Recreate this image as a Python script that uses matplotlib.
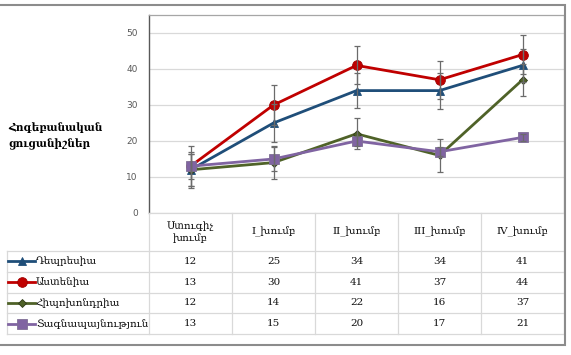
import matplotlib
matplotlib.use("Agg")
import matplotlib.pyplot as plt
from matplotlib.patches import Rectangle
import numpy as np

plt.rcParams['font.family'] = ['DejaVu Serif', 'DejaVu Sans']

categories = ["Ստուգիչ\nխումբ", "I_խումբ", "II_խումբ", "III_խումբ", "IV_խումբ"]
series_names = ["Դեպրեսիա", "Աստենիա", "Հիպոխոնդրիա", "Տագնապայնություն"]
depression = [12, 25, 34, 34, 41]
asthenia = [13, 30, 41, 37, 44]
hypochondria = [12, 14, 22, 16, 37]
anxiety = [13, 15, 20, 17, 21]
err_depression = [5.0, 5.3, 4.8, 5.0, 4.5]
err_asthenia = [5.5, 5.5, 5.3, 5.3, 5.5]
err_hypochondria = [4.5, 4.5, 4.3, 4.5, 4.5]
err_anxiety = [3.5, 3.3, 1.5, 1.2, 1.0]
y_label = "Հոգեբանական\nցուցանիշներ"
y_ticks = [0, 10, 20, 30, 40, 50]

values = [depression, asthenia, hypochondria, anxiety]
errors = [err_depression, err_asthenia, err_hypochondria, err_anxiety]
colors = ['#1F4E79', '#C00000', '#4F6228', '#8064A2']
markers = ['^', 'o', 'D', 's']
msizes = [6, 7, 4, 7]
medge = ['#1F4E79', '#A00000', '#2F3A18', '#7f6f95']

W, H = 571, 355
fig = plt.figure(figsize=(W/100, H/100), dpi=100)

def fx(px):
    return px / W

def fy(py):
    return 1 - py / H

# Layout (pixels)
PL, PR, PT, PB = 149, 564, 15, 213
TL = 7
HEAD_B = 251
TB = 334

# Outer chart border
fig.patches.append(Rectangle((fx(-5), fy(345)), fx(565 + 5), fy(5) - fy(345),
                             transform=fig.transFigure, fill=False,
                             edgecolor='#8c8c8c', linewidth=1.5, zorder=0))

# Plot area
ax = fig.add_axes([fx(PL), fy(PB), fx(PR) - fx(PL), fy(PT) - fy(PB)])
x = np.arange(len(categories))
for vals, errs, c, m, ms, me in zip(values, errors, colors, markers, msizes, medge):
    ax.plot(x, vals, color=c, linewidth=2, marker=m, markersize=ms,
            markerfacecolor=c, markeredgecolor=me, markeredgewidth=0.6, zorder=3)
    ax.errorbar(x, vals, yerr=errs, fmt='none', ecolor='#6b6b6b',
                elinewidth=0.9, capsize=2.5, capthick=0.9, zorder=4)

ax.set_xlim(-0.5, len(categories) - 0.5)
ax.set_ylim(0, 55)
ax.set_yticks(y_ticks)
ax.set_xticks([])
ax.tick_params(axis='y', length=0, pad=8, labelsize=6.5, labelcolor='#595959')
for lbl in ax.get_yticklabels():
    lbl.set_family('DejaVu Sans')
ax.yaxis.grid(True, color='#D9D9D9', linewidth=0.9)
ax.set_axisbelow(True)
for side in ['top', 'right']:
    ax.spines[side].set_color('#a6a6a6')
    ax.spines[side].set_linewidth(0.9)
ax.spines['left'].set_color('#595959')
ax.spines['left'].set_linewidth(1.0)
ax.spines['bottom'].set_visible(False)

# Y-axis title
fig.text(fx(8), fy(136), y_label, ha='left', va='center', fontsize=7.6,
         fontweight='bold', linespacing=1.5, color='#000000')

# Data table (overlay in pixel coordinates)
tax = fig.add_axes([0, 0, 1, 1])
tax.set_xlim(0, W)
tax.set_ylim(H, 0)
tax.axis('off')
tax.patch.set_alpha(0)

n = len(categories)
col_edges = [PL + (PR - PL) * k / n for k in range(n + 1)]
row_h = (TB - HEAD_B) / len(series_names)
row_edges = [HEAD_B + row_h * k for k in range(len(series_names) + 1)]
grid_kw = dict(color='#D9D9D9', linewidth=0.9, zorder=1)

# horizontal lines
tax.plot([PL, PR], [PB, PB], **grid_kw)
for yy in row_edges:
    tax.plot([TL, PR], [yy, yy], **grid_kw)
# vertical lines
tax.plot([TL, TL], [HEAD_B, TB], **grid_kw)
for xx in col_edges:
    tax.plot([xx, xx], [PB, TB], **grid_kw)

FS = 7.5
# header text
for k, cat in enumerate(categories):
    xc = (col_edges[k] + col_edges[k + 1]) / 2
    tax.text(xc, (PB + HEAD_B) / 2, cat, ha='center', va='center',
             fontsize=FS, color='#111111', linespacing=1.3)

# body
for i, (name, vals, c, m, ms, me) in enumerate(zip(series_names, values, colors,
                                                    markers, msizes, medge)):
    yc = (row_edges[i] + row_edges[i + 1]) / 2
    tax.plot([TL + 1, TL + 28], [yc, yc], color=c, linewidth=2, zorder=3)
    tax.plot([TL + 14.5], [yc], marker=m, markersize=ms, color=c,
             markeredgecolor=me, markeredgewidth=0.6, zorder=4)
    tax.text(TL + 29, yc, name, ha='left', va='center', fontsize=FS,
             color='#111111')
    for k, v in enumerate(vals):
        xc = (col_edges[k] + col_edges[k + 1]) / 2
        tax.text(xc, yc, str(v), ha='center', va='center', fontsize=FS,
                 color='#111111')

fig.savefig('out.png', dpi=100)
